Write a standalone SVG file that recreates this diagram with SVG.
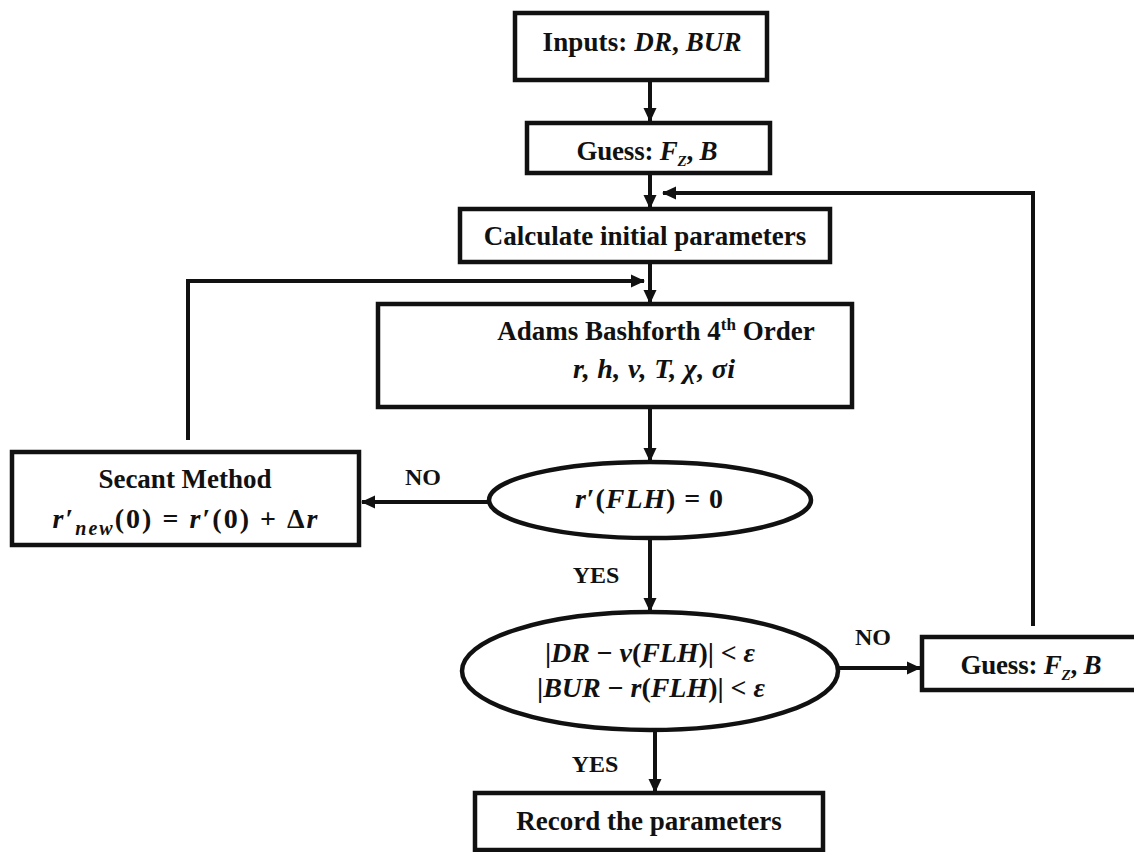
<svg xmlns="http://www.w3.org/2000/svg" width="1134" height="852" viewBox="0 0 1134 852">
<defs>
<marker id="ah" markerUnits="userSpaceOnUse" markerWidth="14" markerHeight="14" viewBox="0 0 14 14" refX="13" refY="7" orient="auto">
<path d="M0,0.5 L14,7 L0,13.5 Z" fill="#111"/>
</marker>
<style>
.box{fill:#fff;stroke:#111;stroke-width:4.5}
.t{font-family:"Liberation Serif","Times New Roman",serif;font-weight:bold;font-size:27px;fill:#111;text-anchor:middle}
.mt{font-size:28px}
.m{font-style:italic}
.lbl{font-family:"Liberation Serif","Times New Roman",serif;font-weight:bold;font-size:24px;fill:#111;text-anchor:middle}
.c{fill:none;stroke:#111;stroke-width:4}
</style>
</defs>
<rect width="1134" height="852" fill="#fff"/>
<g id="connectors">
<path class="c" d="M650,80 V121" marker-end="url(#ah)"/>
<path class="c" d="M650,173 V208" marker-end="url(#ah)"/>
<path class="c" d="M1033,626 V193 H663" marker-end="url(#ah)"/>
<path class="c" d="M650,262 V303" marker-end="url(#ah)"/>
<path class="c" d="M188,440 V281 H644" marker-end="url(#ah)"/>
<path class="c" d="M650,407 V461" marker-end="url(#ah)"/>
<path class="c" d="M489,502 H362" marker-end="url(#ah)"/>
<path class="c" d="M650,538 V611" marker-end="url(#ah)"/>
<path class="c" d="M838,668 H920" marker-end="url(#ah)"/>
<path class="c" d="M655,730 V792" marker-end="url(#ah)"/>
<text class="lbl" x="423" y="485">NO</text>
<text class="lbl" x="596" y="583">YES</text>
<text class="lbl" x="873" y="645">NO</text>
<text class="lbl" x="595" y="772">YES</text>
</g>
<g id="inputs">
<rect class="box" x="515" y="13" width="252" height="67"/>
<text class="t" x="642" y="51" textLength="199" lengthAdjust="spacing">Inputs: <tspan class="m">DR</tspan>, <tspan class="m">BUR</tspan></text>
</g>
<g id="guess1">
<rect class="box" x="527" y="123" width="243" height="50"/>
<text class="t" x="647" y="160" textLength="141" lengthAdjust="spacing">Guess: <tspan class="m">F</tspan><tspan class="m" font-size="15" dy="6">Z</tspan><tspan dy="-6">, </tspan><tspan class="m">B</tspan></text>
</g>
<g id="calculate">
<rect class="box" x="460" y="209" width="370" height="53"/>
<text class="t" x="645" y="245">Calculate initial parameters</text>
</g>
<g id="adams">
<rect class="box" x="378" y="304" width="474" height="103"/>
<text class="t" x="656" y="340">Adams Bashforth 4<tspan font-size="17" dy="-10">th</tspan><tspan dy="10"> Order</tspan></text>
<text class="t mt m" x="654" y="378" textLength="162" lengthAdjust="spacing">r, h, v, T, χ, σi</text>
</g>
<g id="check1">
<ellipse class="box" cx="650" cy="500" rx="161" ry="38"/>
<text class="t mt" x="649" y="508" textLength="148" lengthAdjust="spacing"><tspan class="m">r</tspan>′(<tspan class="m">FLH</tspan>) = 0</text>
</g>
<g id="secant">
<rect class="box" x="12" y="452" width="347" height="93"/>
<text class="t" x="185" y="488">Secant Method</text>
<text class="t mt" x="185" y="528" textLength="265" lengthAdjust="spacing"><tspan class="m">r</tspan>′<tspan class="m" font-size="20" dy="7">new</tspan><tspan dy="-7">(0) = </tspan><tspan class="m">r</tspan>′(0) + Δ<tspan class="m">r</tspan></text>
</g>
<g id="check2">
<ellipse class="box" cx="650" cy="671" rx="188" ry="59"/>
<text class="t mt" x="650" y="662" textLength="210" lengthAdjust="spacing">|<tspan class="m">DR</tspan> − <tspan class="m">v</tspan>(<tspan class="m">FLH</tspan>)| &lt; <tspan class="m">ε</tspan></text>
<text class="t mt" x="651" y="697" textLength="228" lengthAdjust="spacing">|<tspan class="m">BUR</tspan> − <tspan class="m">r</tspan>(<tspan class="m">FLH</tspan>)| &lt; <tspan class="m">ε</tspan></text>
</g>
<g id="guess2">
<rect class="box" x="922" y="637" width="220" height="53"/>
<text class="t" x="1031" y="674" textLength="141" lengthAdjust="spacing">Guess: <tspan class="m">F</tspan><tspan class="m" font-size="15" dy="6">Z</tspan><tspan dy="-6">, </tspan><tspan class="m">B</tspan></text>
</g>
<g id="record">
<rect class="box" x="475" y="793" width="348" height="57"/>
<text class="t" x="649" y="830">Record the parameters</text>
</g>
</svg>
